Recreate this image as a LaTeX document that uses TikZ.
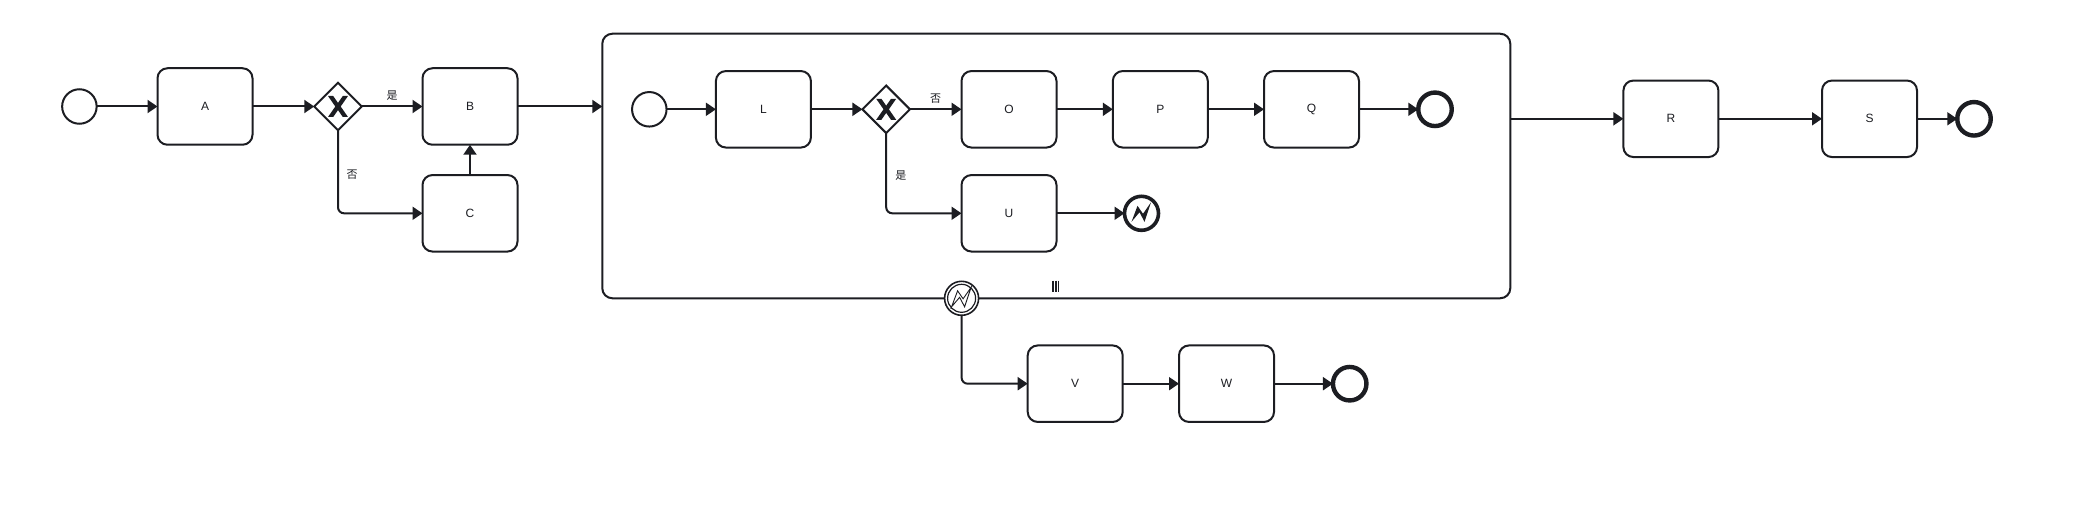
\documentclass[tikz,border=0pt]{standalone}
\usepackage{fontspec}
\setmainfont{Liberation Sans}
\newfontfamily\cjk{Noto Sans CJK SC}
\usetikzlibrary{arrows.meta,shapes.geometric,calc}
\definecolor{ink}{HTML}{1C1D22}
\tikzset{
  task/.style={draw=ink,line width=2pt,rounded corners=10pt,minimum width=95pt,minimum height=76.5pt,inner sep=0pt,outer sep=0pt,text=ink,font=\fontsize{12}{12}\selectfont},
  start/.style={circle,draw=ink,line width=2pt,minimum size=34.5pt,inner sep=0pt,outer sep=0pt},
  stop/.style={circle,draw=ink,line width=4.4pt,minimum size=33.5pt,inner sep=0pt,outer sep=0pt,fill=white},
  gate/.style={diamond,aspect=1,draw=ink,line width=2pt,minimum size=47.5pt,inner sep=0pt,outer sep=0pt},
  flow/.style={draw=ink,line width=2pt,rounded corners=6pt,-{Triangle[length=10pt,width=13pt]}},
  tag/.style={text=ink,inner sep=0pt,font=\cjk\fontsize{11}{12}\selectfont}
}
\begin{document}
\begin{tikzpicture}[x=1pt,y=-1pt]
\useasboundingbox (0,0) rectangle (2080,516);
\node[task,minimum width=908pt,minimum height=264.5pt] (sub) at (1056.3,166) {};
\foreach\n/\x/\y in {A/205/106.5,B/470/106.5,C/470/213.3,L/763.4/109.3,O/1009/109.3,P/1160.3/109.3,Q/1311.5/109.3,U/1009/213.3,V/1075.2/383.7,W/1226.5/383.7,R/1670.9/118.8,S/1869.5/118.8}
\node[task] (\n) at (\x,\y) {\n};
\node[start] (s1) at (79.4,106.5) {};
\node[start] (s2) at (649.3,109.3) {};
\node[gate] (g1) at (338,106.5) {};
\node[gate] (g2) at (886.2,109.3) {};
\node[stop] (e1) at (1435,109.3) {};
\node[stop] (e2) at (1349.7,383.7) {};
\node[stop] (e3) at (1974,118.8) {};
\node[stop,line width=3.6pt,minimum size=34pt] (err) at (1141.5,213.3) {};
\node[circle,draw=ink,fill=white,line width=1.6pt,minimum size=34pt,inner sep=0pt,outer sep=0pt] (bnd) at (961.6,298.3) {};
\node[circle,draw=ink,line width=1.2pt,minimum size=28pt,inner sep=0pt] (bnd2) at (bnd) {};
\foreach\g in {g1,g2}
\fill[ink,shift={(\g)}] (-10,-10.5) -- (-4.8,-10.5) -- (0,-3.6) -- (4.8,-10.5) -- (10,-10.5) -- (2.7,0) -- (10,10.5) -- (4.8,10.5) -- (0,3.6) -- (-4.8,10.5) -- (-10,10.5) -- (-2.7,0) --cycle;
\fill[ink] ($(err)+(-10,8.5)$) -- ($(err)+(-4,-7.5)$) -- ($(err)+(1.5,0.5)$) -- ($(err)+(9.5,-11)$) -- ($(err)+(3,8.5)$) -- ($(err)+(-2,-1)$) --cycle;
\draw[ink,line width=.9pt] ($(bnd)+(-10,8.5)$) -- ($(bnd)+(-4,-7.5)$) -- ($(bnd)+(1.5,0.5)$) -- ($(bnd)+(9.5,-11)$) -- ($(bnd)+(3,8.5)$) -- ($(bnd)+(-2,-1)$) --cycle;
\foreach\a/\b in {s1/A,A/g1,g1/B,C/B,s2/L,L/g2,g2/O,O/P,P/Q,Q/e1,U/err,V/W,W/e2,R/S,S/e3}
\draw[flow] (\a) -- (\b);
\draw[flow] (g1) |- (C);
\draw[flow] (g2) |- (U);
\draw[flow] (bnd) |- (V);
\draw[flow] (B) -- (B -| sub.west);
\draw[flow] (R -| sub.east) -- (R);
\coordinate (bars) at (1055.7,286);
\foreach\x in {-2.7,0,2.7}
\draw[ink,line width=1.6pt] ($(bars)+(\x,-5.5)$) -- ($(bars)+(\x,5.5)$);
\node[tag] (t1) at (392,95.5) {是};
\node[tag] (t2) at (352,174.5) {否};
\node[tag] (t3) at (935.6,98.7) {否};
\node[tag] (t4) at (900.8,176) {是};
\end{tikzpicture}
\end{document}
